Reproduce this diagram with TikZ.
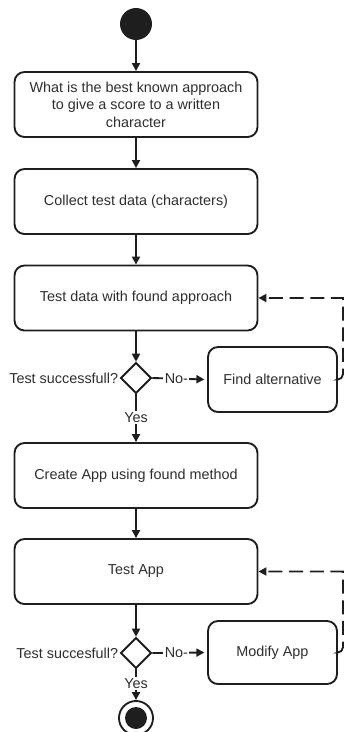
\documentclass[tikz,border=0pt]{standalone}
\usepackage{fontspec}
\setmainfont{Liberation Sans}
\usetikzlibrary{shapes.geometric,arrows.meta}
\definecolor{ink}{HTML}{1E1E1E}
\definecolor{txt}{HTML}{2E2E2E}
\begin{document}
\begin{tikzpicture}[x=0.75pt,y=-0.75pt,
  every node/.style={font=\fontsize{10.8}{13.2}\selectfont, text=txt},
  act/.style={draw=ink, line width=1.4pt, rounded corners=7.5pt,
    minimum width=182.25pt, minimum height=48.75pt, align=center, inner sep=2pt},
  side/.style={act, minimum width=96.75pt},
  choice/.style={diamond, draw=ink, line width=1.4pt, minimum size=23pt, inner sep=0pt},
  flow/.style={draw=ink, line width=1.4pt, -{Triangle[length=6pt,width=6pt]}},
  back/.style={flow, dash pattern=on 10.5pt off 5pt},
  tag/.style={fill=white, inner sep=1pt}]
\useasboundingbox (0,0) rectangle (345,732);

% start and end markers
\node[circle, fill=ink, minimum size=24pt, inner sep=0pt] (start) at (136,24) {};
\node[circle, draw=ink, line width=1.4pt, minimum size=25.5pt, inner sep=0pt] (stop) at (136,718) {};
\node[circle, fill=ink, minimum size=16.5pt, inner sep=0pt] (stopdot) at (stop) {};

% activities
\node[act] (a1) at (136,104.5) {What is the best known approach\\to give a score to a written\\character};
\node[act] (a2) at (136,201.5) {Collect test data (characters)};
\node[act] (a3) at (136,298) {Test data with found approach};
\node[choice] (d1) at (136,378) {};
\node[anchor=east, inner sep=1pt] (q1) at (d1.west) {Test successfull?};
\node[side] (fa) at (272.5,379.5) {Find alternative};
\node[act] (a4) at (136,475.5) {Create App using found method};
\node[act] (a5) at (136,571.5) {Test App};
\node[choice] (d2) at (136,653) {};
\node[anchor=east, inner sep=1pt] (q2) at (d2.west) {Test succesfull?};
\node[side, minimum height=47.25pt] (ma) at (272.5,652.5) {Modify App};

% main flow
\draw[flow] (start.south) -- (a1.north);
\draw[flow] (a1.south) -- (a2.north);
\draw[flow] (a2.south) -- (a3.north);
\draw[flow] (a3.south) -- (d1.north);
\draw[flow] (d1.south) -- node[tag, pos=0.48] {Yes} (a4.north);
\draw[flow, shorten >=2pt] (d1.east) -- node[tag, pos=0.44] {No-} (fa.west);
\draw[flow] (a4.south) -- (a5.north);
\draw[flow] (a5.south) -- (d2.north);
\draw[flow] (d2.south) -- node[tag, pos=0.46] {Yes} (stop.north);
\draw[flow, shorten >=2pt] (d2.east) -- node[tag, pos=0.44] {No-} (ma.west);

% retry loops: rounded only where they leave the side boxes
\draw[back] (fa.east) [rounded corners=4pt] -- (343,379.5) [sharp corners] -- (343,298) -- (a3.east);
\draw[back] (ma.east) [rounded corners=4pt] -- (343,652.5) [sharp corners] -- (343,571.5) -- (a5.east);
\end{tikzpicture}
\end{document}
